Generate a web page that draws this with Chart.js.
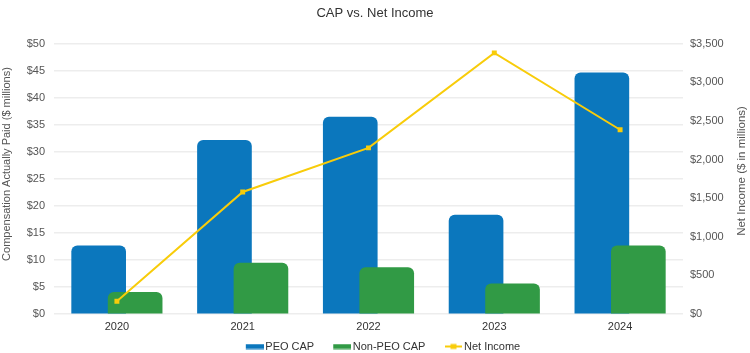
<!DOCTYPE html>
<html>
<head>
<meta charset="utf-8">
<script src="https://cdn.jsdelivr.net/npm/chart.js@4.4.1/dist/chart.umd.min.js"></script>
<style>
  html, body { margin: 0; padding: 0; background: #fff; }
  #wrap { width: 750px; height: 353px; }
</style>
</head>
<body>
<div id="wrap"><canvas id="capChart"></canvas></div>
<script>
// Chart data
const years = ['2020', '2021', '2022', '2023', '2024'];
const peoCap = [12.6, 32.1, 36.4, 18.3, 44.6];        // $ millions
const nonPeoCap = [4.0, 9.4, 8.6, 5.6, 12.6];         // $ millions
const netIncome = [165, 1580, 2150, 3380, 2385];      // $ in millions
const capTicks = [0, 5, 10, 15, 20, 25, 30, 35, 40, 45, 50];
const incomeTicks = [0, 500, 1000, 1500, 2000, 2500, 3000, 3500];

const FONT = '"Liberation Sans", Arial, Helvetica, sans-serif';
const TEXT = '#555555';
const BLUE = '#0b77bd';
const GREEN = '#319a45';
const YELLOW = '#f8cc0a';

// bars overlap inside each year, so they sit a bit left / right of the year centre
const BAR_SHIFT = 0.145;

// Legend markers: transparent space on the left widens the gap between items,
// the coloured part sits at the right so it hugs its label.
function boxMarker(color) {
    const c = document.createElement('canvas');
    c.width = 38; c.height = 6;
    const g = c.getContext('2d');
    g.fillStyle = color;
    g.fillRect(20, 0.5, 18, 5);
    return c;
}
function lineMarker(color) {
    const c = document.createElement('canvas');
    c.width = 37; c.height = 8;
    const g = c.getContext('2d');
    g.strokeStyle = color;
    g.lineWidth = 2;
    g.beginPath(); g.moveTo(20, 4); g.lineTo(37, 4); g.stroke();
    g.fillStyle = color;
    g.fillRect(25.5, 1.5, 6, 5);
    return c;
}

// both axis titles read bottom-to-top, sitting a little above the plot centre
function sideTitle(g, text, x, y, size) {
    g.save();
    g.translate(x, y);
    g.rotate(-Math.PI / 2);
    g.font = size + 'px ' + FONT;
    g.fillStyle = TEXT;
    g.textAlign = 'center';
    g.textBaseline = 'middle';
    g.fillText(text, 0, 0);
    g.restore();
}
const axisTitles = {
    id: 'axisTitles',
    afterDraw(chart) {
        sideTitle(chart.ctx, 'Compensation Actually Paid ($ millions)', 7, 164, 11);
        sideTitle(chart.ctx, 'Net Income ($ in millions)', 742, 171, 11.5);
    }
};

const ctx = document.getElementById('capChart');

new Chart(ctx, {
    data: {
        datasets: [
            {
                type: 'bar',
                label: 'PEO CAP',
                data: years.map((y, i) => ({ x: i - BAR_SHIFT, y: peoCap[i] })),
                backgroundColor: BLUE,
                borderRadius: { topLeft: 6, topRight: 6 },
                borderSkipped: 'bottom',
                barThickness: 54,
                grouped: false,
                yAxisID: 'y',
                order: 2,
                marker: boxMarker(BLUE)
            },
            {
                type: 'bar',
                label: 'Non-PEO CAP',
                data: years.map((y, i) => ({ x: i + BAR_SHIFT, y: nonPeoCap[i] })),
                backgroundColor: GREEN,
                borderRadius: { topLeft: 6, topRight: 6 },
                borderSkipped: 'bottom',
                barThickness: 54,
                grouped: false,
                yAxisID: 'y',
                order: 1,
                marker: boxMarker(GREEN)
            },
            {
                type: 'line',
                label: 'Net Income',
                data: years.map((y, i) => ({ x: i, y: netIncome[i] })),
                borderColor: YELLOW,
                backgroundColor: YELLOW,
                borderWidth: 2,
                pointStyle: 'rect',
                pointRadius: 3.5,
                pointBorderWidth: 0,
                tension: 0,
                yAxisID: 'y1',
                order: 0,
                marker: lineMarker(YELLOW)
            }
        ]
    },
    options: {
        responsive: true,
        maintainAspectRatio: false,
        animation: false,
        layout: { padding: { left: 0, right: 0, top: 6, bottom: -9 } },
        plugins: {
            title: {
                display: true,
                text: 'CAP vs. Net Income',
                color: '#333333',
                font: { family: FONT, size: 13, weight: 'normal' },
                padding: { top: 0, bottom: 22 }
            },
            legend: {
                position: 'bottom',
                labels: {
                    usePointStyle: true,
                    pointStyleWidth: 30,
                    color: '#333333',
                    padding: 3,
                    font: { family: FONT, size: 11 },
                    sort: (a, b) => a.datasetIndex - b.datasetIndex,
                    generateLabels: function (chart) {
                        const items = Chart.defaults.plugins.legend.labels.generateLabels(chart);
                        items.forEach(it => {
                            it.pointStyle = chart.data.datasets[it.datasetIndex].marker;
                        });
                        return items;
                    }
                }
            },
            tooltip: { enabled: false }
        },
        scales: {
            x: {
                type: 'linear',
                min: -0.5,
                max: 4.5,
                offset: false,
                afterBuildTicks: s => { s.ticks = years.map((y, i) => ({ value: i })); },
                afterFit: s => { s.height = 24; },
                grid: { display: false, drawTicks: false },
                border: { display: false },
                ticks: {
                    color: '#333333',
                    font: { family: FONT, size: 11 },
                    padding: 6,
                    callback: v => years[v]
                }
            },
            y: {
                position: 'left',
                min: 0,
                max: 50,
                afterBuildTicks: s => { s.ticks = capTicks.map(v => ({ value: v })); },
                afterFit: s => { s.width = 54; },
                grid: { color: '#ededed', lineWidth: 1.5, drawTicks: false },
                border: { display: false },
                ticks: {
                    color: TEXT,
                    font: { family: FONT, size: 11 },
                    padding: 9,
                    callback: v => '$' + v
                }
            },
            y1: {
                position: 'right',
                min: 0,
                max: 3500,
                afterBuildTicks: s => { s.ticks = incomeTicks.map(v => ({ value: v })); },
                afterFit: s => { s.width = 67; },
                grid: { drawOnChartArea: false, drawTicks: false },
                border: { display: false },
                ticks: {
                    color: TEXT,
                    font: { family: FONT, size: 11 },
                    padding: 7,
                    callback: v => '$' + v.toLocaleString('en-US')
                }
            }
        }
    },
    plugins: [axisTitles]
});
</script>
</body>
</html>
